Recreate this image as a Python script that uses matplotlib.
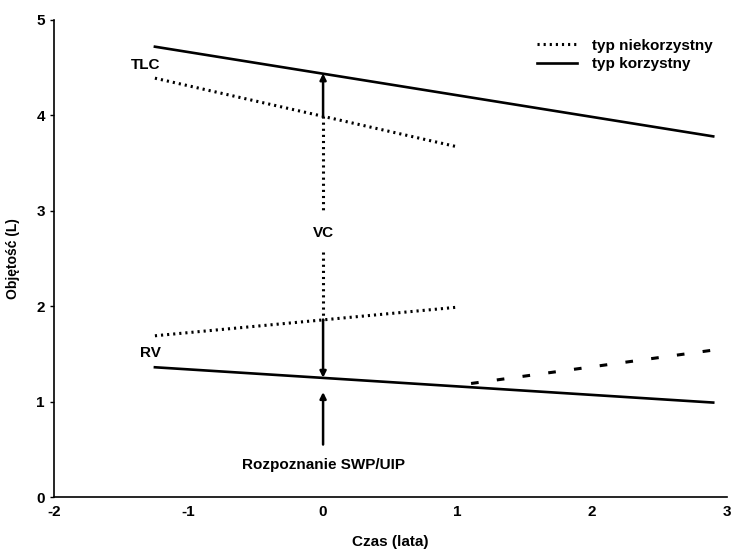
import matplotlib
matplotlib.use("Agg")
import matplotlib.pyplot as plt

plt.rcParams['font.family'] = ['Liberation Sans', 'DejaVu Sans']
plt.rcParams['font.weight'] = 'bold'
plt.rcParams['axes.labelweight'] = 'bold'
plt.rcParams['axes.unicode_minus'] = False

# TLC / RV trajectories over time (years from diagnosis)
x_full = [-1.25, 2.9]
x_short = [-1.25, 1.0]
tlc_good = [4.72, 3.78]
tlc_bad = [4.39, 3.67]
rv_good = [1.36, 0.99]
rv_bad = [1.69, 1.99]
x_rv_rise = [1.1, 2.9]
rv_rise = [1.19, 1.54]

# values at diagnosis (x = 0)
tlc_good_0 = 4.44
tlc_bad_0 = 3.99
rv_bad_0 = 1.86
rv_good_0 = 1.25
vc_gap = [2.98, 2.57]

xticks = [-2, -1, 0, 1, 2, 3]
yticks = [0, 1, 2, 3, 4, 5]

fig = plt.figure(figsize=(7.34, 5.52), dpi=100)
ax = fig.add_axes([0.0736, 0.0996, 0.9164, 0.8642])

dotted = (0, (0.7, 1.3))
lw = 1.9
ax.plot(x_short, tlc_bad, color='black', lw=2.2, linestyle=dotted,
        label='typ niekorzystny')
ax.plot(x_full, tlc_good, color='black', lw=lw, label='typ korzystny')
ax.plot(x_short, rv_bad, color='black', lw=2.2, linestyle=dotted)
ax.plot(x_full, rv_good, color='black', lw=lw)
ax.plot(x_rv_rise, rv_rise, color='black', lw=2.2, linestyle=(0, (2.5, 6)))

# VC bracket at diagnosis
arrow = dict(arrowstyle='-|>', color='black', lw=1.8, shrinkA=0, shrinkB=0,
             mutation_scale=9)
ax.annotate('', xy=(0, tlc_good_0), xytext=(0, tlc_bad_0), arrowprops=arrow)
ax.plot([0, 0], [tlc_bad_0, vc_gap[0]], color='black', lw=2.2, linestyle=dotted)
ax.plot([0, 0], [vc_gap[1], rv_bad_0], color='black', lw=2.2, linestyle=dotted)
ax.annotate('', xy=(0, rv_good_0), xytext=(0, rv_bad_0), arrowprops=arrow)
ax.annotate('', xy=(0, 1.10), xytext=(0, 0.55), arrowprops=arrow)

ax.text(0, 2.77, 'VC', ha='center', va='center', fontsize=11)
ax.text(-1.43, 4.53, 'TLC', ha='left', va='center', fontsize=11)
ax.text(-1.36, 1.51, 'RV', ha='left', va='center', fontsize=11)
ax.text(0, 0.34, 'Rozpoznanie SWP/UIP', ha='center', va='center', fontsize=11)

ax.set_xlim(-2, 3)
ax.set_ylim(0, 5)
ax.set_xticks(xticks)
ax.set_yticks(yticks)
ax.tick_params(labelsize=11, length=3, width=1)
ax.tick_params(axis='x', length=0, pad=6)
for s in ['top', 'right']:
    ax.spines[s].set_visible(False)
for s in ['left', 'bottom']:
    ax.spines[s].set_linewidth(1.2)

ax.set_xlabel('Czas (lata)', fontsize=11, labelpad=11)
ax.set_ylabel('Objętość (L)', fontsize=10, labelpad=12)

ax.legend(loc='upper right', bbox_to_anchor=(1.0, 0.99), frameon=False, fontsize=11,
          handlelength=2.6, handletextpad=1.0, labelspacing=0.3)

fig.savefig('out.png', dpi=100)
